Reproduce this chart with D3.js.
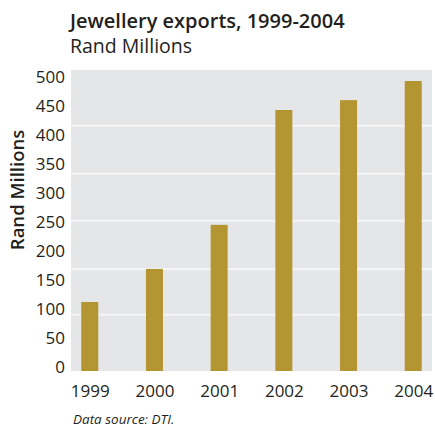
<!DOCTYPE html>
<html>
<head>
<meta charset="utf-8">
<script src="https://cdn.jsdelivr.net/npm/d3@7"></script>
<style>
  body { margin: 0; background: #fff; }
  text { font-family: "Open Sans", sans-serif; fill: #231f20; }
</style>
</head>
<body>
<div class="canvas"></div>
<script>
const years = ["1999", "2000", "2001", "2002", "2003", "2004"]
const exportsRm = [119, 176, 252, 450, 467, 500]
const yTicks = [0, 50, 100, 150, 200, 250, 300, 350, 400, 450, 500]
const gridValues = [97, 176, 259, 340, 423]

const dim = { width: 435, height: 429 }
const plot = { left: 71, right: 432, top: 70, bottom: 371 }

const svg = d3.select(".canvas").append("svg")
  .attr("width", dim.width).attr("height", dim.height)

const x = d3.scalePoint().domain(years).range([plot.left, plot.right]).padding(0.29)
const y = d3.scaleLinear().domain([0, 500]).range([plot.bottom, 81])

// plot background
svg.append("rect")
  .attr("x", plot.left).attr("y", plot.top)
  .attr("width", plot.right - plot.left).attr("height", plot.bottom - plot.top)
  .attr("fill", "#e5e6e8")

// gridlines
svg.append("g").selectAll("line").data(gridValues).enter().append("line")
  .attr("x1", plot.left).attr("x2", plot.right)
  .attr("y1", d => y(d)).attr("y2", d => y(d))
  .attr("stroke", "#f5f5f6").attr("stroke-width", 2)

// bars
const barW = 17
svg.append("g").selectAll("rect").data(exportsRm).enter().append("rect")
  .attr("x", (d, i) => x(years[i]) - barW / 2)
  .attr("y", d => y(d))
  .attr("width", barW)
  .attr("height", d => y(0) - y(d))
  .attr("fill", "#b39532")

// y axis labels
const yAxis = d3.axisLeft(y).tickValues(yTicks).tickSize(0).tickPadding(6)
svg.append("g").attr("transform", `translate(${plot.left},0)`).call(yAxis)
  .call(g => g.select(".domain").remove())
  .selectAll("text")
  .attr("dy", "0.1em")
  .style("font-size", "17px")

// x axis labels
const xAxis = d3.axisBottom(x).tickSize(0).tickPadding(14)
svg.append("g").attr("transform", `translate(0,${plot.bottom})`).call(xAxis)
  .call(g => g.select(".domain").remove())
  .selectAll("text")
  .style("font-size", "17px")

// titles
svg.append("text").attr("x", 70).attr("y", 28)
  .style("font-size", "20px").style("font-weight", 600)
  .text("Jewellery exports, 1999-2004")
svg.append("text").attr("x", 70).attr("y", 53)
  .style("font-size", "19.5px")
  .text("Rand Millions")

svg.append("text")
  .attr("transform", "translate(24,190) rotate(-90)")
  .attr("text-anchor", "middle")
  .style("font-size", "18.5px").style("font-weight", 600)
  .text("Rand Millions")

svg.append("text").attr("x", 73).attr("y", 424)
  .style("font-size", "13.5px").style("font-style", "italic")
  .text("Data source: DTI.")
</script>
</body>
</html>
